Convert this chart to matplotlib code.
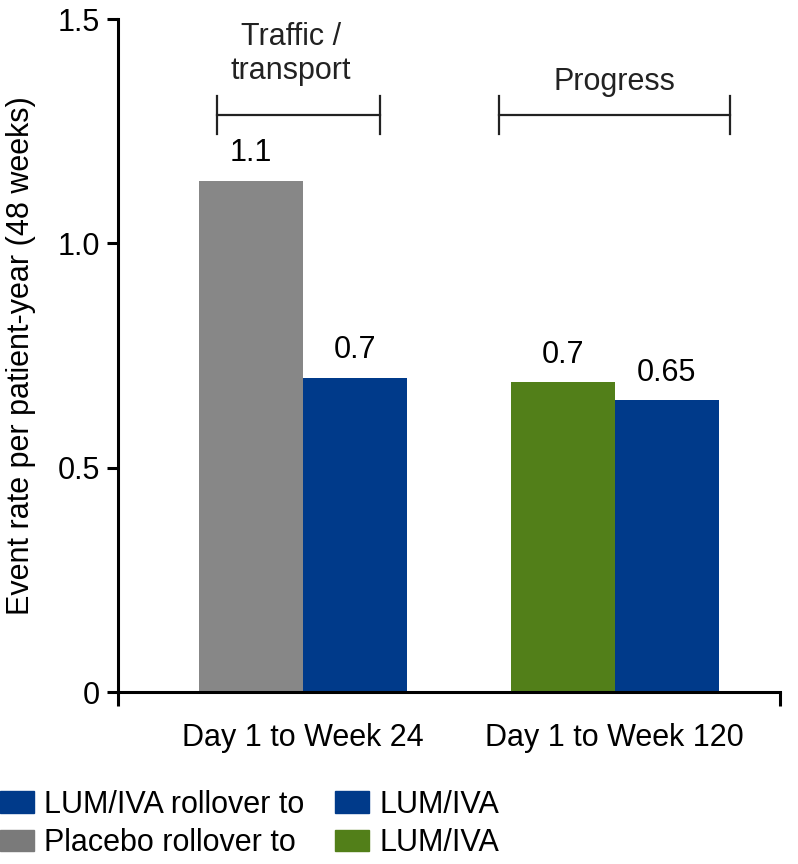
import numpy as np
import matplotlib
matplotlib.use("Agg")
import matplotlib.pyplot as plt
from matplotlib.patches import Patch

plt.rcParams['font.family'] = ['Liberation Sans', 'DejaVu Sans']

# data
periods = ['Day 1 to Week 24', 'Day 1 to Week 120']
first_vals = [1.14, 0.69]      # placebo -> LUM/IVA, then LUM/IVA (progress)
second_vals = [0.70, 0.65]     # LUM/IVA rollover
first_labels = ['1.1', '0.7']
second_labels = ['0.7', '0.65']
y_ticks = [0, 0.5, 1.0, 1.5]
y_ticklabels = ['0', '0.5', '1.0', '1.5']
groups = ['Traffic /\ntransport', 'Progress']

grey = '#878787'
grey_leg = '#7a7a7a'
blue = '#003a8a'
green = '#527f19'
fs = 22

fig = plt.figure(figsize=(7.98, 8.64), dpi=100)
ax = fig.add_axes([0.148, 0.199, 0.829, 0.779])

x = np.arange(len(periods))
w = 0.333
b1 = ax.bar(x - w / 2, first_vals, w, color=[grey, green])
b2 = ax.bar(x + w / 2, second_vals, w, color=blue)

for bars, labs in [(b1, first_labels), (b2, second_labels)]:
    for r, lab in zip(bars, labs):
        ax.annotate(lab, (r.get_x() + r.get_width() / 2, r.get_height()),
                    xytext=(0, 20), textcoords='offset points',
                    ha='center', va='center', fontsize=fs)

ax.set_xlim(-0.593, 1.529)
ax.set_ylim(0, 1.5)
ax.set_yticks(y_ticks)
ax.set_yticklabels(y_ticklabels, fontsize=fs)
ax.tick_params(axis='y', length=8, width=2.2, pad=5)

# ends of the x axis get small downward ticks, categories get labels only
ax.set_xticks([-0.593, 1.529])
ax.set_xticklabels(['', ''])
ax.tick_params(axis='x', which='major', length=10, width=2.2)
ax.set_xticks(x, minor=True)
ax.set_xticklabels(periods, minor=True, fontsize=fs)
ax.tick_params(axis='x', which='minor', length=0, pad=22)

for s in ['top', 'right']:
    ax.spines[s].set_visible(False)
for s in ['left', 'bottom']:
    ax.spines[s].set_linewidth(2.2)

ax.set_ylabel('Event rate per patient-year (48 weeks)', fontsize=fs)
ax.yaxis.set_label_coords(-0.124, 0.5)

# group brackets
brackets = [(-0.276, 0.247), (0.628, 1.369)]
yb = 1.286
cap = 0.042
for (x0, x1) in brackets:
    ax.plot([x0, x1], [yb, yb], color='#222222', lw=1.6, clip_on=False)
    for xc in (x0, x1):
        ax.plot([xc, xc], [yb - cap, yb + cap], color='#222222', lw=1.6, clip_on=False)
ax.text(-0.038, 1.422, groups[0], ha='center', va='center', fontsize=fs,
        color='#222222', linespacing=1.2)
ax.text(1.0, 1.36, groups[1], ha='center', va='center', fontsize=fs, color='#222222')

handles = [Patch(color=blue), Patch(color=grey_leg), Patch(color=blue), Patch(color=green)]
labels = ['LUM/IVA rollover to', 'Placebo rollover to', 'LUM/IVA', 'LUM/IVA']
fig.legend(handles, labels, ncol=2, loc='upper left', bbox_to_anchor=(0.0, 0.086),
           frameon=False, fontsize=fs, handlelength=1.1, handleheight=0.72,
           handletextpad=0.35, columnspacing=1.0, labelspacing=0.28,
           borderaxespad=0, borderpad=0)

fig.savefig('out.png', dpi=100)
